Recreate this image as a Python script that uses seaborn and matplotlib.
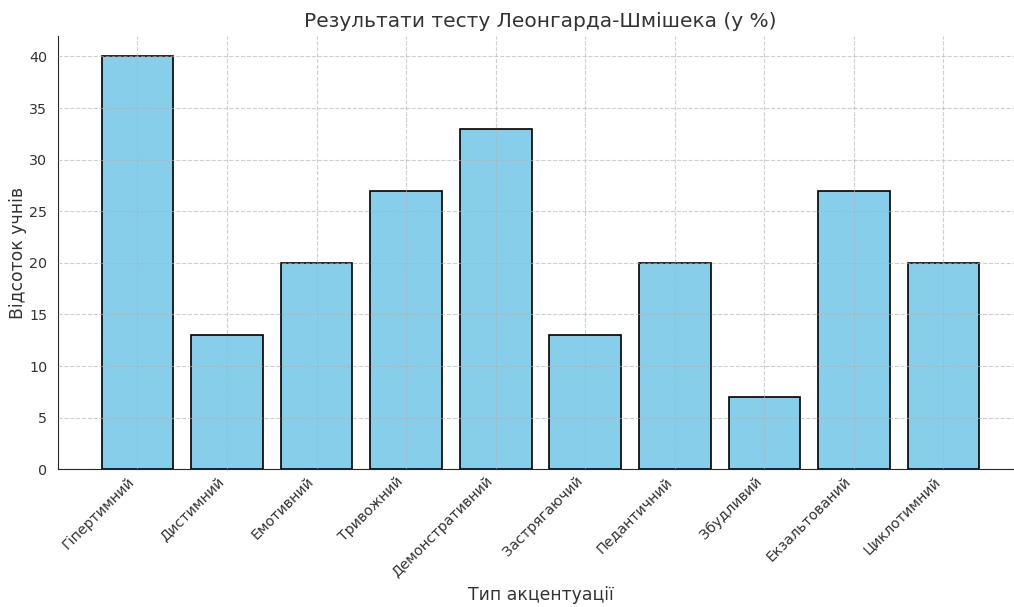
import matplotlib
matplotlib.use('Agg')
import matplotlib.pyplot as plt
import seaborn as sns
import pandas as pd

types = ['Гіпертимний', 'Дистимний', 'Емотивний', 'Тривожний', 'Демонстративний',
         'Застрягаючий', 'Педантичний', 'Збудливий', 'Екзальтований', 'Циклотимний']
percents = [40, 13, 20, 27, 33, 13, 20, 7, 27, 20]

df = pd.DataFrame({'type': types, 'pct': percents})

sns.set_style('white')
plt.rcParams['font.family'] = ['DejaVu Sans']

fig, ax = plt.subplots(figsize=(10.14, 6.07), dpi=100)
sns.barplot(data=df, x='type', y='pct', color='skyblue', edgecolor='black',
            linewidth=1.2, saturation=1, width=0.8, ax=ax)
ax.set_xlim(-0.89, len(types) - 1 + 0.89)
ax.set_ylim(0, 42)
ax.grid(True, linestyle='--', color='#b0b0b0', linewidth=0.8, alpha=0.6)
ax.set_axisbelow(False)
for s in ['top', 'right']:
    ax.spines[s].set_visible(False)
ax.set_title('Результати тесту Леонгарда-Шмішека (у %)', fontsize=14.5, color='#333333')
ax.set_xlabel('Тип акцентуації', fontsize=12.4, color='#333333')
ax.set_ylabel('Відсоток учнів', fontsize=12.4, color='#333333')
ax.yaxis.set_label_coords(-0.032, 0.5)
plt.xticks(rotation=45, ha='right')
ax.tick_params(axis='both', labelsize=10.3, colors='#333333')
ax.tick_params(axis='y', length=4)
ax.tick_params(axis='x', length=4, direction='in')
# the original seems cropped on the right, axes runs past the edge
plt.subplots_adjust(left=0.057, right=1.009, top=0.941, bottom=0.227)
plt.savefig('out.png', dpi=100)
